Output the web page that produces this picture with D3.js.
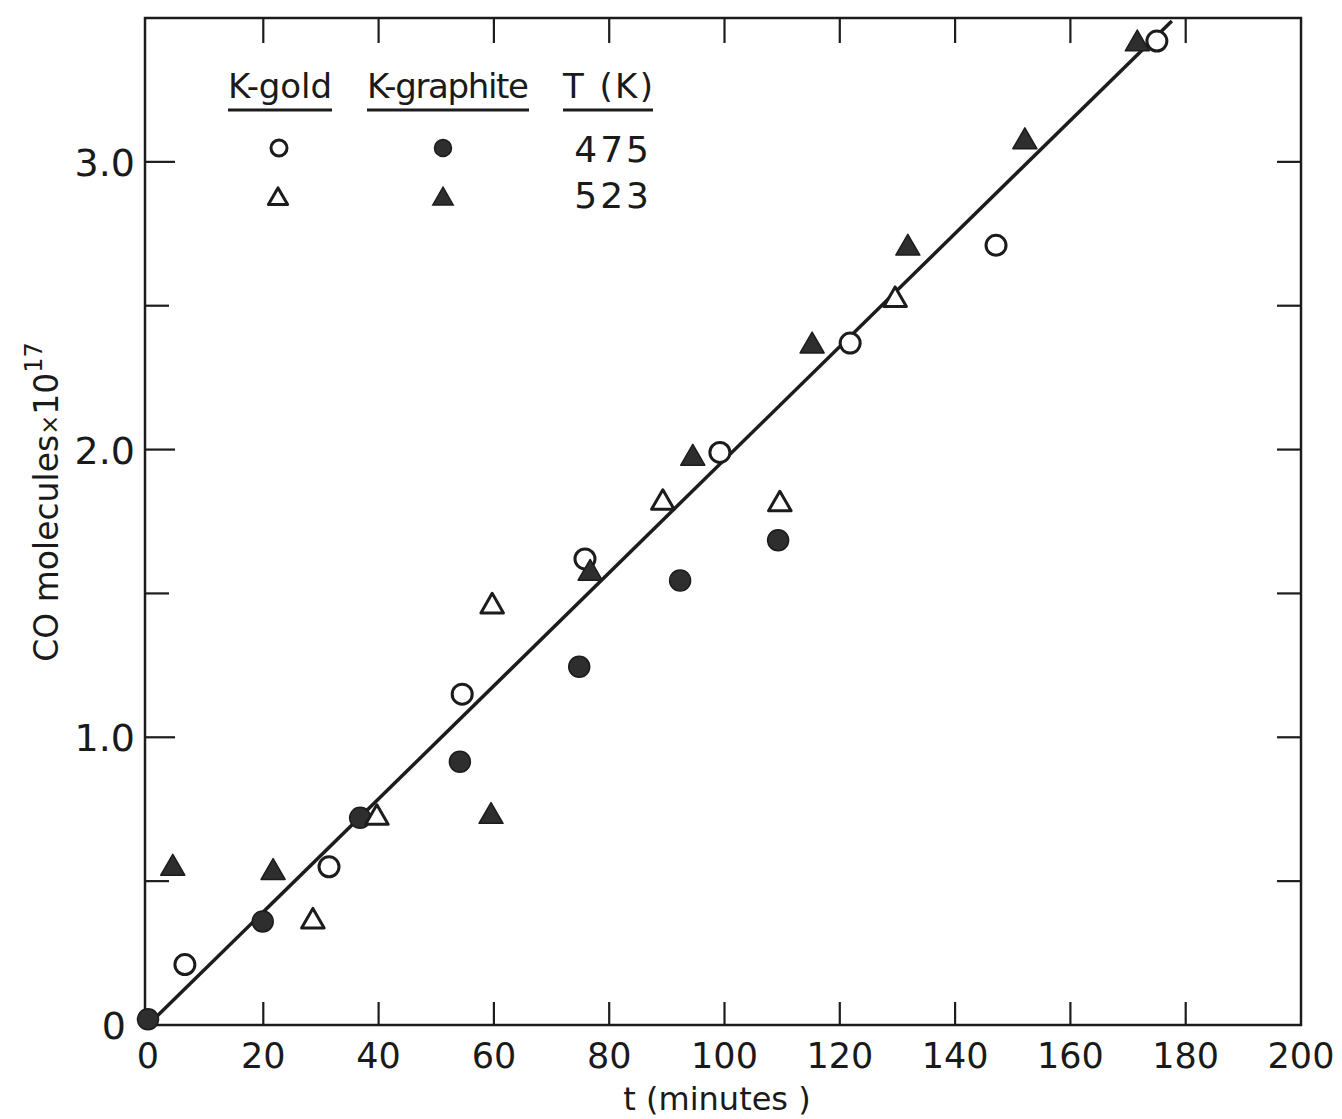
<!DOCTYPE html>
<html>
<head>
<meta charset="utf-8">
<script src="https://cdn.jsdelivr.net/npm/d3@7"></script>
<style>
  body { margin: 0; background: #fff; }
  text { font-family: 'DejaVu Sans', sans-serif; fill: #1a1a1a; }
</style>
</head>
<body>
<div id="chart"></div>
<script>
// K-gold, 475 K (open circles)
let goldT475 = [[6.4, 0.21], [31.4, 0.55], [54.5, 1.15], [75.8, 1.62], [99.2, 1.99],
  [121.8, 2.37], [147.1, 2.71], [175.0, 3.42]];
// K-graphite, 475 K (filled circles)
let graphiteT475 = [[0, 0.02], [19.9, 0.36], [36.8, 0.72], [54.1, 0.915], [74.8, 1.245],
  [92.3, 1.545], [109.3, 1.685]];
// K-gold, 523 K (open triangles)
let goldT523 = [[28.6, 0.36], [39.7, 0.72], [59.7, 1.455], [89.3, 1.815], [109.6, 1.81],
  [129.6, 2.52]];
// K-graphite, 523 K (filled triangles)
let graphiteT523 = [[4.3, 0.545], [21.7, 0.53], [59.5, 0.725], [76.7, 1.57], [94.5, 1.97],
  [115.2, 2.36], [131.8, 2.70], [152.1, 3.07], [171.6, 3.41]];
// drawn straight line
let fitLine = [[0, 0], [177.6, 3.49]];

let xTicks = [0, 20, 40, 60, 80, 100, 120, 140, 160, 180, 200];
let yLabelTicks = [0, 1.0, 2.0, 3.0];
let yMinorTicks = [0.5, 1.0, 1.5, 2.0, 2.5, 3.0];

let width = 1342;
let height = 1119;
let ink = '#1c1c1c';
let fillInk = '#2e2e2e';

let svg = d3.select('#chart')
  .append('svg')
  .attr('width', width)
  .attr('height', height);

let x = d3.scaleLinear().domain([0, 200]).range([148, 1301]);
let y = d3.scaleLinear().domain([0, 3.5]).range([1025, 18]);

// frame
svg.append('rect')
  .attr('x', x(0) - 3)
  .attr('y', y(3.5))
  .attr('width', x(200) - x(0) + 3)
  .attr('height', y(0) - y(3.5))
  .attr('fill', 'none')
  .attr('stroke', ink)
  .attr('stroke-width', 2.5);

// x ticks bottom (up) and top (down)
let innerX = xTicks.filter(d => d > 0 && d < 200);
svg.append('g').selectAll('line.xb')
  .data(innerX)
  .enter()
  .append('line')
  .attr('x1', d => x(d)).attr('x2', d => x(d))
  .attr('y1', y(0)).attr('y2', y(0) - 23)
  .attr('stroke', ink).attr('stroke-width', 2.2);
svg.append('g').selectAll('line.xt')
  .data(innerX)
  .enter()
  .append('line')
  .attr('x1', d => x(d)).attr('x2', d => x(d))
  .attr('y1', y(3.5)).attr('y2', y(3.5) + 25)
  .attr('stroke', ink).attr('stroke-width', 2.2);

// y ticks left and right
svg.append('g').selectAll('line.yl')
  .data(yMinorTicks)
  .enter()
  .append('line')
  .attr('x1', x(0) - 3).attr('x2', d => x(0) - 3 + (d % 1 === 0 ? 30 : 24))
  .attr('y1', d => y(d)).attr('y2', d => y(d))
  .attr('stroke', ink).attr('stroke-width', 2.2);
svg.append('g').selectAll('line.yr')
  .data(yMinorTicks)
  .enter()
  .append('line')
  .attr('x1', x(200)).attr('x2', x(200) - 24)
  .attr('y1', d => y(d)).attr('y2', d => y(d))
  .attr('stroke', ink).attr('stroke-width', 2.2);

// tick labels
svg.append('g').selectAll('text.xl')
  .data(xTicks)
  .enter()
  .append('text')
  .attr('x', d => x(d))
  .attr('y', 1068)
  .attr('text-anchor', 'middle')
  .style('font-size', '35px')
  .text(d => d);

svg.append('g').selectAll('text.yl')
  .data(yLabelTicks)
  .enter()
  .append('text')
  .attr('x', d => d === 0 ? 126 : 135)
  .attr('y', d => y(d) + 14)
  .attr('text-anchor', 'end')
  .style('font-size', '38px')
  .text(d => d === 0 ? '0' : d.toFixed(1));

// axis titles
svg.append('text')
  .attr('x', 717)
  .attr('y', 1110)
  .attr('text-anchor', 'middle')
  .style('font-size', '32px')
  .text('t (minutes )');

let yTitle = svg.append('text')
  .attr('transform', 'translate(58,502) rotate(-90)')
  .attr('text-anchor', 'middle')
  .style('font-size', '33px');
yTitle.append('tspan').text('CO  molecules');
yTitle.append('tspan').style('font-size', '24px').text('\u00d7');
yTitle.append('tspan').text('10');
yTitle.append('tspan').attr('dy', -16).style('font-size', '24px').text('17');

// fitted line
let line = d3.line().x(d => x(d[0])).y(d => y(d[1]));
svg.append('path')
  .datum(fitLine)
  .attr('d', line)
  .attr('fill', 'none')
  .attr('stroke', ink)
  .attr('stroke-width', 3.5);

// markers
let tri = d3.symbol().type(d3.symbolTriangle);

let drawCircles = (data, filled, r) => {
  svg.append('g').selectAll('circle')
    .data(data)
    .enter()
    .append('circle')
    .attr('cx', d => x(d[0]))
    .attr('cy', d => y(d[1]))
    .attr('r', r)
    .attr('fill', filled ? fillInk : '#fff')
    .attr('stroke', ink)
    .attr('stroke-width', filled ? 1.5 : 3);
};

let drawTriangles = (data, filled, size) => {
  svg.append('g').selectAll('path')
    .data(data)
    .enter()
    .append('path')
    .attr('transform', d => `translate(${x(d[0])},${y(d[1])})`)
    .attr('d', tri.size(size)())
    .attr('fill', filled ? fillInk : '#fff')
    .attr('stroke', ink)
    .attr('stroke-width', filled ? 1.5 : 3)
    .attr('stroke-linejoin', 'round');
};

drawCircles(graphiteT475, true, 10.5);
drawTriangles(goldT523, false, 220);
drawCircles(goldT475, false, 10);
drawTriangles(graphiteT523, true, 250);

// legend
let legend = svg.append('g');
let heads = [
  { label: 'K-gold', x: 228, w: 104 },
  { label: 'K-graphite', x: 367, w: 162 },
  { label: 'T (K)', x: 563, w: 90 }
];
legend.selectAll('text.head')
  .data(heads)
  .enter()
  .append('text')
  .attr('x', d => d.x + d.w / 2)
  .attr('y', 98)
  .attr('text-anchor', 'middle')
  .attr('textLength', d => d.w)
  .style('font-size', '34px')
  .text(d => d.label);
legend.selectAll('line.head')
  .data(heads)
  .enter()
  .append('line')
  .attr('x1', d => d.x).attr('x2', d => d.x + d.w)
  .attr('y1', 110).attr('y2', 110)
  .attr('stroke', ink).attr('stroke-width', 3);

legend.append('circle').attr('cx', 279).attr('cy', 148).attr('r', 8)
  .attr('fill', '#fff').attr('stroke', ink).attr('stroke-width', 3);
legend.append('circle').attr('cx', 443).attr('cy', 148).attr('r', 8.5)
  .attr('fill', fillInk).attr('stroke', ink).attr('stroke-width', 1.5);
legend.append('path').attr('transform', 'translate(278,199)')
  .attr('d', tri.size(160)())
  .attr('fill', '#fff').attr('stroke', ink).attr('stroke-width', 3)
  .attr('stroke-linejoin', 'round');
legend.append('path').attr('transform', 'translate(443,199)')
  .attr('d', tri.size(180)())
  .attr('fill', fillInk).attr('stroke', ink).attr('stroke-width', 1.5);

legend.selectAll('text.temp')
  .data(['475', '523'])
  .enter()
  .append('text')
  .attr('x', 652)
  .attr('y', (d, i) => 162 + i * 46)
  .attr('text-anchor', 'end')
  .style('font-size', '36px')
  .style('letter-spacing', '3px')
  .text(d => d);
</script>
</body>
</html>
